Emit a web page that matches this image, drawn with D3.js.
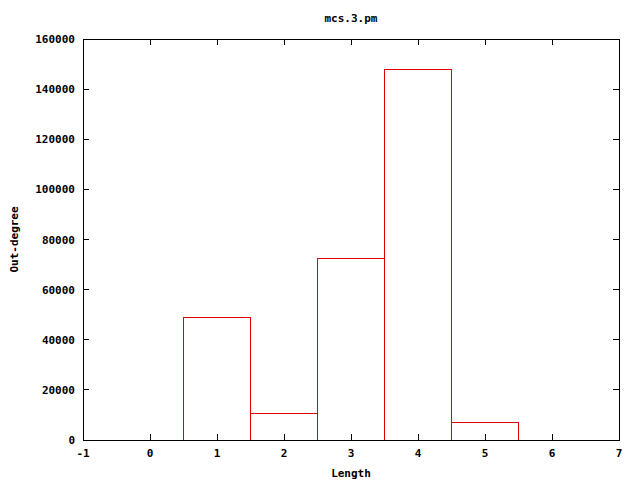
<!DOCTYPE html>
<html><head><meta charset="utf-8">
<script src="https://cdn.jsdelivr.net/npm/d3@7"></script>
<style>body{margin:0;background:#fff}svg text{font-family:"DejaVu Sans Mono",monospace;font-weight:bold;font-size:11px;fill:#000}</style>
</head><body>
<script>
const lengths = [1, 2, 3, 4, 5];
const outDegree = [49000, 10400, 72500, 148000, 7100];
const xTicks = [-1, 0, 1, 2, 3, 4, 5, 6, 7];
const yTicks = [0, 20000, 40000, 60000, 80000, 100000, 120000, 140000, 160000];
const title = "mcs.3.pm", xLabel = "Length", yLabel = "Out-degree";

const W = 640, H = 480, L = 83, R = 619, T = 39, B = 440;
const svg = d3.select("body").append("svg").attr("width", W).attr("height", H);
const x = d3.scaleLinear().domain([-1, 7]).range([L, R]);
const y = d3.scaleLinear().domain([0, 160000]).range([B, T]);
const tl = 6;

// bars
svg.selectAll("rect.bar").data(lengths).enter().append("rect")
  .attr("x", d => x(d - 0.5)).attr("width", d => x(d + 0.5) - x(d - 0.5))
  .attr("y", (d, i) => y(outDegree[i])).attr("height", (d, i) => y(0) - y(outDegree[i]))
  .attr("fill", "none").attr("stroke", "#e00000").attr("stroke-width", 1)
  .attr("shape-rendering", "crispEdges");

const g = svg.append("g").attr("shape-rendering", "crispEdges");
// ticks (inward, mirrored)
xTicks.forEach(t => {
  g.append("line").attr("x1", x(t)).attr("x2", x(t)).attr("y1", B).attr("y2", B - tl).attr("stroke", "#000");
  g.append("line").attr("x1", x(t)).attr("x2", x(t)).attr("y1", T).attr("y2", T + tl).attr("stroke", "#000");
  svg.append("text").attr("x", x(t)).attr("y", 457).attr("text-anchor", "middle").text(t);
});
yTicks.forEach(t => {
  g.append("line").attr("x1", L).attr("x2", L + tl).attr("y1", y(t)).attr("y2", y(t)).attr("stroke", "#000");
  g.append("line").attr("x1", R).attr("x2", R - tl).attr("y1", y(t)).attr("y2", y(t)).attr("stroke", "#000");
  svg.append("text").attr("x", 75).attr("y", y(t) + 4).attr("text-anchor", "end").text(t);
});
g.append("rect").attr("x", L).attr("y", T).attr("width", R - L).attr("height", B - T)
  .attr("fill", "none").attr("stroke", "#000");

svg.append("text").attr("x", (L + R) / 2).attr("y", 22).attr("text-anchor", "middle").text(title);
svg.append("text").attr("x", (L + R) / 2).attr("y", 477).attr("text-anchor", "middle").text(xLabel);
svg.append("text").attr("transform", `translate(18,${(T + B) / 2}) rotate(-90)`).attr("text-anchor", "middle").text(yLabel);
</script>
</body></html>
